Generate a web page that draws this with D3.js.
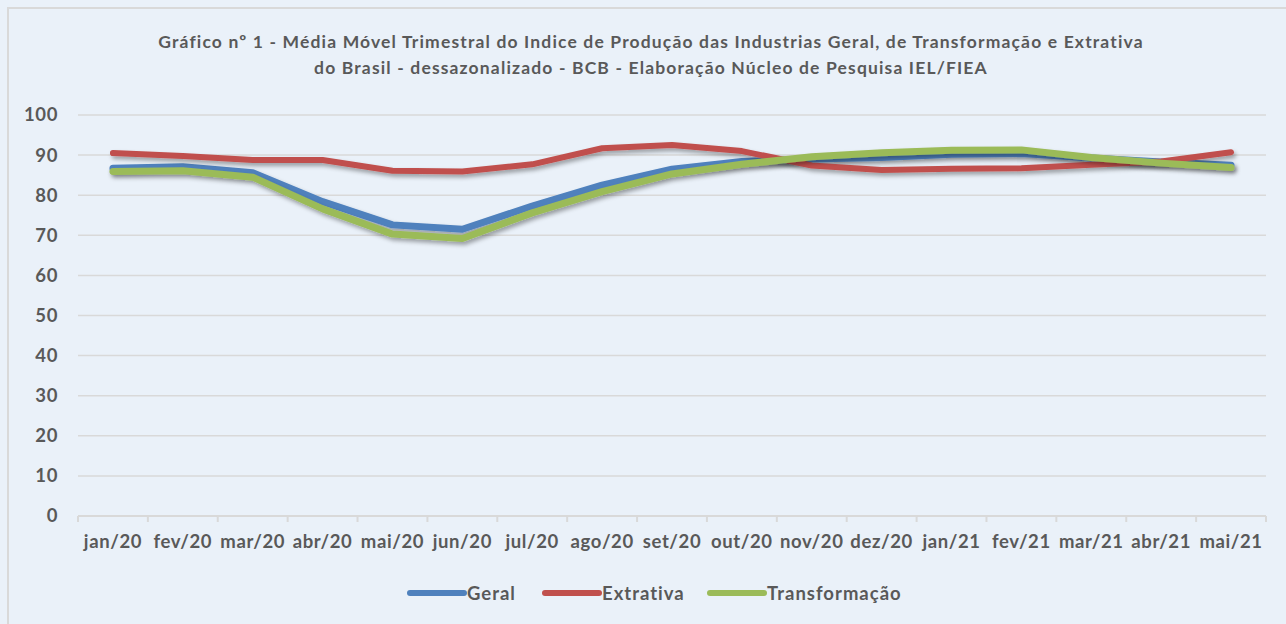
<!DOCTYPE html>
<meta charset="utf-8">
<style>
body { margin: 0; background: #eaf1f9; font-family: Lato, sans-serif; }
svg { display: block; }
.axis text { font: bold 18.5px Lato, sans-serif; fill: #595959; letter-spacing: 0.6px; }
.titulo { font: bold 17.5px Lato, sans-serif; fill: #595959; letter-spacing: 1.15px; }
.legenda text { font: bold 18.5px Lato, sans-serif; fill: #595959; letter-spacing: 1px; }
</style>
<body>
<svg width="1286" height="624"></svg>
<script src="https://d3js.org/d3.v7.min.js"></script>
<script>

var meses = ["jan/20","fev/20","mar/20","abr/20","mai/20","jun/20","jul/20","ago/20","set/20","out/20","nov/20","dez/20","jan/21","fev/21","mar/21","abr/21","mai/21"];
var geral = [86.7, 87.1, 85.6, 78.4, 72.6, 71.5, 77.3, 82.5, 86.5, 88.4, 89.0, 89.4, 90.2, 90.4, 89.3, 88.3, 87.5];
var extrativa = [90.5, 89.8, 88.8, 88.8, 86.1, 85.9, 87.7, 91.7, 92.5, 91.0, 87.4, 86.3, 86.6, 86.7, 87.6, 88.4, 90.7];
var transformacao = [85.9, 86.1, 84.5, 76.6, 70.3, 69.2, 75.6, 80.9, 85.3, 87.7, 89.6, 90.6, 91.2, 91.3, 89.4, 88.0, 86.9];
var yTicks = [0, 10, 20, 30, 40, 50, 60, 70, 80, 90, 100];

var series = [
  {nome: "Geral", valores: geral, cor: "#4f81bd"},
  {nome: "Extrativa", valores: extrativa, cor: "#c0504d"},
  {nome: "Transformação", valores: transformacao, cor: "#9bbb59"}
];

var svg = d3.select("svg");

// moldura do grafico
svg.append("rect")
    .attr("x", 8).attr("y", 8)
    .attr("width", 1290).attr("height", 630)
    .attr("fill", "#eaf1f9")
    .attr("stroke", "#d9d9d9")
    .attr("stroke-width", 2);

var defs = svg.append("defs");
var f = defs.append("filter").attr("id", "sombra")
    .attr("x", "-5%").attr("y", "-50%").attr("width", "110%").attr("height", "200%");
f.append("feDropShadow")
    .attr("dx", 2).attr("dy", 3).attr("stdDeviation", 2)
    .attr("flood-color", "#000").attr("flood-opacity", 0.35);

svg.append("text").attr("class", "titulo")
    .attr("x", 651).attr("y", 48).attr("text-anchor", "middle")
    .text("Gráfico nº 1 - Média Móvel Trimestral do Indice de Produção das Industrias Geral, de Transformação e Extrativa");
svg.append("text").attr("class", "titulo")
    .attr("x", 651).attr("y", 74).attr("text-anchor", "middle")
    .text("do Brasil - dessazonalizado - BCB - Elaboração Núcleo de Pesquisa IEL/FIEA");

var x = d3.scaleBand().domain(meses).range([78, 1266]);
var y = d3.scaleLinear().domain([0, 100]).range([516, 115]);

// grade
svg.append("g")
  .selectAll("line")
  .data(yTicks.filter(function(d) { return d > 0; }))
  .enter().append("line")
    .attr("x1", 78).attr("x2", 1266)
    .attr("y1", function(d) { return y(d); })
    .attr("y2", function(d) { return y(d); })
    .attr("stroke", "#d9d9d9")
    .attr("stroke-width", 1.5);

var eixoY = svg.append("g")
    .attr("class", "axis")
    .attr("transform", "translate(78,0)")
    .call(d3.axisLeft(y).tickValues(yTicks).tickSize(0).tickPadding(20));
eixoY.select(".domain").remove();

var eixoX = svg.append("g")
    .attr("class", "axis")
    .attr("transform", "translate(0,516)")
    .call(d3.axisBottom(x).tickSize(0).tickPadding(19));
eixoX.select(".domain").attr("stroke", "#d9d9d9").attr("stroke-width", 2)
    .attr("d", "M78,0H1266");
eixoX.selectAll(".tick line").remove();
// marcas entre categorias
svg.append("g")
  .selectAll("line")
  .data(meses.concat(["fim"]))
  .enter().append("line")
    .attr("x1", function(d, i) { return 78 + i * x.bandwidth(); })
    .attr("x2", function(d, i) { return 78 + i * x.bandwidth(); })
    .attr("y1", 516).attr("y2", 522)
    .attr("stroke", "#d9d9d9").attr("stroke-width", 2);

var linha = d3.line()
    .x(function(d, i) { return x(meses[i]) + x.bandwidth() / 2; })
    .y(function(d) { return y(d); });

svg.append("g")
  .selectAll("path")
  .data(series)
  .enter().append("path")
    .attr("d", function(s) { return linha(s.valores); })
    .attr("fill", "none")
    .attr("stroke", function(s) { return s.cor; })
    .attr("stroke-width", function(s) { return s.nome == "Extrativa" ? 6 : 7; })
    .attr("stroke-linejoin", "round")
    .attr("stroke-linecap", "round")
    .attr("filter", "url(#sombra)");

// legenda
var legX = [410, 545, 710];
var leg = svg.append("g").attr("class", "legenda")
  .selectAll("g")
  .data(series)
  .enter().append("g")
    .attr("transform", function(s, i) { return "translate(" + legX[i] + ",593)"; });
leg.append("line")
    .attr("x1", 0).attr("x2", 54)
    .attr("stroke", function(s) { return s.cor; })
    .attr("stroke-width", 6)
    .attr("stroke-linecap", "round");
leg.append("text")
    .attr("x", 57).attr("y", 6.5)
    .text(function(s) { return s.nome; });

</script>
</body>
